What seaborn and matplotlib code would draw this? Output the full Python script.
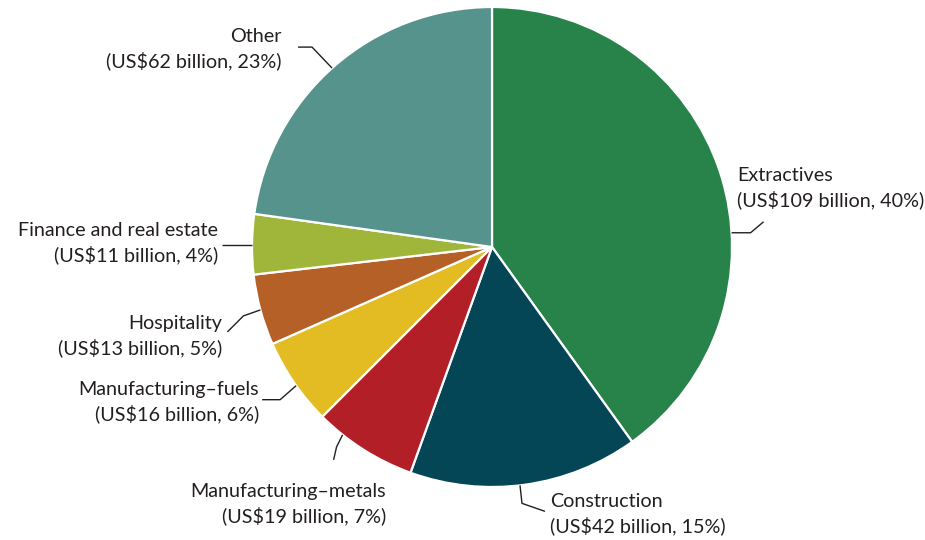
import numpy as np
import matplotlib
matplotlib.use("Agg")
import matplotlib.pyplot as plt
import seaborn as sns

# data
sectors = ['Extractives', 'Construction', 'Manufacturing\u2013metals', 'Manufacturing\u2013fuels',
           'Hospitality', 'Finance and real estate', 'Other']
values_bn = [109, 42, 19, 16, 13, 11, 62]
colors = ['#27834A', '#044656', '#B31F27', '#E2BC22', '#B56027', '#A0B63B', '#56938C']

sns.set_theme(style="white")
plt.rcParams['font.family'] = ['Lato', 'DejaVu Sans']

PX = 240.0          # pixels per unit radius
CX, CY = 492, 247   # pie centre in pixels

fig = plt.figure(figsize=(9.25, 5.4), dpi=100)
ax = fig.add_axes([0, 0, 1, 1])
ax.pie(values_bn, colors=colors, startangle=90, counterclock=False,
       radius=1.0, wedgeprops=dict(edgecolor='white', linewidth=1.6))
ax.set_xlim(-CX / PX, (925 - CX) / PX)
ax.set_ylim(-(540 - CY) / PX, CY / PX)
ax.set_aspect('auto')
ax.axis('off')

total = sum(values_bn)
labels = [f"{s}\n(US${v} billion, {round(100 * v / total)}%)" for s, v in zip(sectors, values_bn)]

def px2d(x, y):
    return (x - CX) / PX, (CY - y) / PX

# layout: leader anchor angle on rim, leader bends (pixel offsets), text anchor pixel, alignment
layout = {
    'Extractives': (3.4, [(19, 0), (32, 11)], (737, 188), 'left'),
    'Construction': (276.7, [(2, -18), (25, -26)], (550, 514), 'left'),
    'Manufacturing\u2013metals': (231.5, [(-6, -12), (-9, -25)], (386, 504), 'right'),
    'Manufacturing\u2013fuels': (215.3, [(-16, -14), (-34, -14)], (259, 402), 'right'),
    'Hospitality': (195.2, [(-17, -6), (-33, -22)], (222, 336), 'right'),
    'Finance and real estate': (179.5, [(-30, 0)], (218, 243), 'right'),
    'Other': (131.8, [(-20, 21), (-34, 21)], (282, 49), 'right'),
}

for s, lab in zip(sectors, labels):
    ang, bends, (tx, ty), ha = layout[s]
    a = np.deg2rad(ang)
    x0, y0 = np.cos(a), np.sin(a)
    xs = [x0] + [x0 + dx / PX for dx, dy in bends]
    ys = [y0] + [y0 + dy / PX for dx, dy in bends]
    ax.plot(xs, ys, color='#231F20', lw=1.0, solid_capstyle='butt')
    tx_d, ty_d = px2d(tx, ty)
    ax.text(tx_d, ty_d, lab, ha=ha, va='center', multialignment=ha,
            fontsize=14.2, color='#231F20', linespacing=1.45)

fig.savefig('out.png', dpi=100)
